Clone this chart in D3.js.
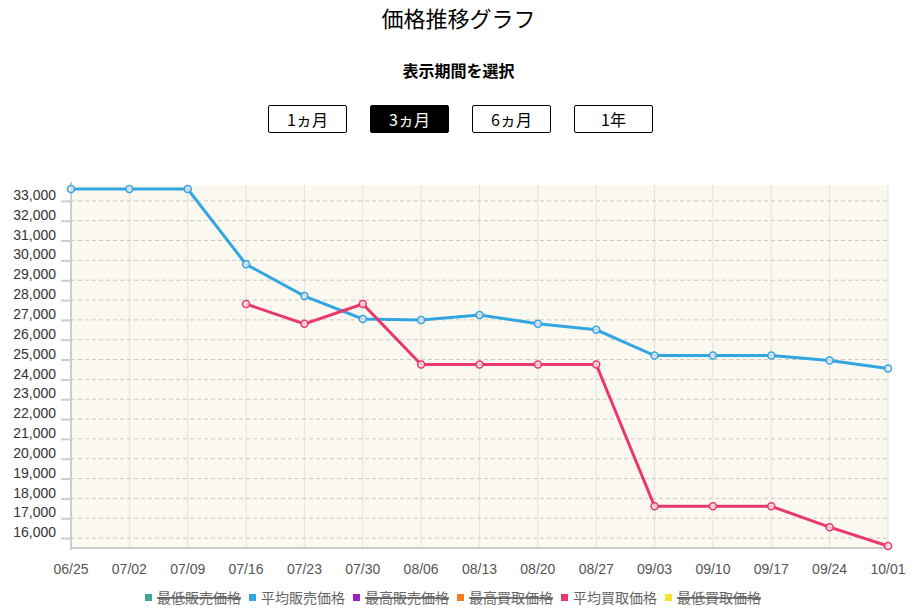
<!doctype html>
<html lang="ja">
<head>
<meta charset="utf-8">
<script src="https://cdn.jsdelivr.net/npm/d3@7"></script>
<style>
body { margin: 0; font-family: "Noto Sans CJK JP", "Noto Sans", sans-serif; background: #fff; }
h1 { margin: 0; padding-top: 0px; text-align: center; font-size: 22px; font-weight: 400; height: 40px; line-height: 34px; }
h2 { margin: 0; text-align: center; font-size: 16px; font-weight: 700; position: absolute; top: 58px; width: 917px; }
.btns { position: absolute; top: 105px; left: 268px; display: flex; gap: 23px; }
.btns button { width: 79px; height: 28px; border: 1px solid #000; background: #fff; font-size: 16px; font-family: inherit; padding: 0; border-radius: 2px; }
.btns button.on { background: #000; color: #fff; }
svg { position: absolute; top: 0; left: 0; }
</style>
</head>
<body>
<h1>価格推移グラフ</h1>
<h2>表示期間を選択</h2>
<div class="btns"><button>1ヵ月</button><button class="on">3ヵ月</button><button>6ヵ月</button><button>1年</button></div>
<script>
var dates = ['06/25','07/02','07/09','07/16','07/23','07/30','08/06','08/13','08/20','08/27','09/03','09/10','09/17','09/24','10/01'];
var avgSell = [33600,33600,33600,29800,28200,27050,27000,27250,26800,26500,25200,25200,25200,24950,24550];
var avgBuy = [null,null,null,27800,26800,27800,24750,24750,24750,24750,17600,17600,17600,16550,15600];
var yTicks = d3.range(16000, 33001, 1000);
var legend = [
  {name:'最低販売価格', color:'#3ea69b', off:true},
  {name:'平均販売価格', color:'#31a6e0', off:false},
  {name:'最高販売価格', color:'#a020c8', off:true},
  {name:'最高買取価格', color:'#f47b20', off:true},
  {name:'平均買取価格', color:'#e8386f', off:false},
  {name:'最低買取価格', color:'#f5e52c', off:true}
];

var W = 917, H = 616, L = 71, R = 888, T = 185, B = 548;
var svg = d3.select('body').append('svg').attr('width', W).attr('height', H);
var x = d3.scalePoint().domain(dates).range([L, R]);
var y = d3.scaleLinear().domain([15500, 33800]).range([B, T]);

svg.append('rect').attr('x', L).attr('y', T).attr('width', R - L).attr('height', B - T).attr('fill', '#fbf8ef');

svg.append('g').selectAll('line').data(dates).join('line')
  .attr('x1', d => x(d)).attr('x2', d => x(d)).attr('y1', T).attr('y2', B)
  .attr('stroke', '#e4e1da');
svg.append('g').selectAll('line').data(yTicks).join('line')
  .attr('x1', L).attr('x2', R).attr('y1', d => y(d)).attr('y2', d => y(d))
  .attr('stroke', '#c8c8c8').attr('stroke-dasharray', '4,3');

var ya = svg.append('g').attr('transform', 'translate(' + L + ',0)')
  .call(d3.axisLeft(y).tickValues(yTicks).tickFormat(d3.format(',')).tickSize(10));
ya.select('.domain').attr('stroke', '#ccc').attr('stroke-width', 2).attr('d', 'M0,' + (T - 3) + 'V' + (B + 2));
ya.selectAll('.tick line').attr('stroke', '#ccc').attr('stroke-width', 2);
ya.selectAll('.tick text').attr('x', -15).attr('dy', '-0.1em').attr('fill', '#333').style('font-size', '14px').style('font-family', 'Liberation Sans, Arial, sans-serif');

svg.append('line').attr('x1', L).attr('x2', R).attr('y1', B).attr('y2', B).attr('stroke', '#ccc').attr('stroke-width', 2);
svg.append('g').selectAll('text').data(dates).join('text')
  .attr('x', d => x(d)).attr('y', 574).attr('text-anchor', 'middle')
  .attr('fill', '#555').style('font-size', '14px').style('font-family', 'Liberation Sans, Arial, sans-serif')
  .text(d => d);

function series(vals, color) {
  var pts = dates.map((d, i) => [d, vals[i]]).filter(p => p[1] != null);
  svg.append('path').datum(pts)
    .attr('d', d3.line().x(p => x(p[0])).y(p => y(p[1])))
    .attr('fill', 'none').attr('stroke', color).attr('stroke-width', 3);
  svg.append('g').selectAll('circle').data(pts).join('circle')
    .attr('cx', p => x(p[0])).attr('cy', p => y(p[1])).attr('r', 3.5)
    .attr('fill', '#f4e9ee').attr('fill-opacity', 0.8)
    .attr('stroke', color).attr('stroke-width', 1.5);
}
series(avgSell, '#31a6e0');
series(avgBuy, '#e8386f');

var lg = svg.append('g').attr('transform', 'translate(145,598)');
var lx = 0;
legend.forEach(function (d) {
  var g = lg.append('g').attr('transform', 'translate(' + lx + ',0)');
  g.append('rect').attr('x', 0).attr('y', -4).attr('width', 7).attr('height', 7).attr('fill', d.color);
  var t = g.append('text').attr('x', 12).attr('y', 5).attr('fill', '#666')
    .style('font-size', '14px').text(d.name);
  if (d.off) {
    var w = t.node().getComputedTextLength();
    g.append('line').attr('x1', 12).attr('x2', 12 + w).attr('y1', 0).attr('y2', 0)
      .attr('stroke', '#555').attr('stroke-width', 1.5);
  }
  lx += 104;
});
</script>
</body>
</html>
